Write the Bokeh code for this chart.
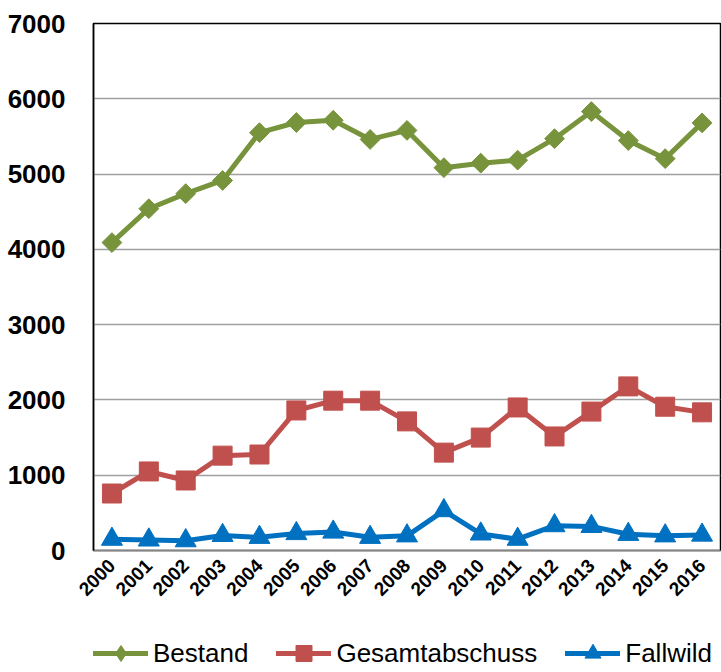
import math
from bokeh.plotting import figure
from bokeh.layouts import column
from bokeh.models import FactorRange, Range1d, Legend, LegendItem, FixedTicker
from bokeh.embed import file_html
from bokeh.resources import INLINE

# Jahre und Zeitreihen
years = [str(y) for y in range(2000, 2017)]
bestand = [4090, 4540, 4740, 4915, 5550, 5685, 5715, 5460, 5580, 5085, 5145, 5185,
           5470, 5830, 5445, 5205, 5680]
gesamtabschuss = [757, 1050, 930, 1260, 1275, 1860, 1990, 1990, 1715, 1300, 1500, 1900,
                  1515, 1845, 2180, 1910, 1835]
fallwild = [150, 140, 130, 200, 175, 225, 245, 175, 195, 530, 220, 150,
            330, 320, 215, 195, 205]
y_ticks = [0, 1000, 2000, 3000, 4000, 5000, 6000, 7000]

GREEN = "#77933C"
RED = "#C0504D"
BLUE = "#0070C0"
FONT = "Liberation Sans"

# name, values, colour, chart marker, size, angle, legend marker
series = [
    ("Bestand", bestand, GREEN, "square", 14, math.pi / 4, "diamond"),
    ("Gesamtabschuss", gesamtabschuss, RED, "square", 19, 0.0, "square"),
    ("Fallwild", fallwild, BLUE, "triangle", 21, 0.0, "triangle"),
]

# Hauptdiagramm
p = figure(
    frame_width=627, frame_height=527,
    x_range=FactorRange(*years, range_padding=0),
    y_range=Range1d(0, 7000),
    output_backend="svg", toolbar_location=None,
    min_border_left=93, min_border_top=23, min_border_right=1, min_border_bottom=0,
)
p.background_fill_color = "white"
p.border_fill_color = "white"
p.outline_line_color = "black"
p.outline_line_width = 1.5

p.xgrid.grid_line_color = None
p.ygrid.grid_line_color = "#a0a0a0"
p.ygrid.grid_line_width = 1.5

p.yaxis.ticker = FixedTicker(ticks=y_ticks)
p.yaxis.axis_line_color = "black"
p.yaxis.axis_line_width = 1.5
p.yaxis.major_tick_line_color = None
p.yaxis.minor_tick_line_color = None
p.yaxis.major_label_text_font = FONT
p.yaxis.major_label_text_font_style = "bold"
p.yaxis.major_label_text_font_size = "26px"
p.yaxis.major_label_text_color = "black"
p.yaxis.major_label_standoff = 22

p.xaxis.axis_line_color = "#868686"
p.xaxis.axis_line_width = 1.5
p.xaxis.major_tick_line_color = None
p.xaxis.minor_tick_line_color = None
p.xaxis.major_label_orientation = math.pi / 4
p.xaxis.major_label_text_font = FONT
p.xaxis.major_label_text_font_style = "bold"
p.xaxis.major_label_text_font_size = "19px"
p.xaxis.major_label_text_color = "black"
p.xaxis.major_label_standoff = 6

for name, vals, color, marker, size, angle, _ in series:
    p.line(years, vals, line_color=color, line_width=5, line_join="round")
    p.scatter(years, vals, marker=marker, size=size, angle=angle,
              fill_color=color, line_color=color)

# Legendenleiste: gleiche Reihen, Wertebereich ausserhalb der Daten,
# sodass nur die Legende sichtbar ist
leg = figure(
    width=721, height=69,
    x_range=FactorRange(*years, range_padding=0),
    y_range=Range1d(-2000, -1000),
    output_backend="svg", toolbar_location=None,
    x_axis_location=None, y_axis_location=None,
    min_border=0,
)
leg.outline_line_color = None
leg.grid.grid_line_color = None
leg.background_fill_color = "white"
leg.border_fill_color = "white"

items = []
for name, vals, color, _, size, _, leg_marker in series:
    ln = leg.line(years, vals, line_color=color, line_width=5, line_cap="round")
    sc = leg.scatter(years, vals, marker=leg_marker, size=size,
                     fill_color=color, line_color=color)
    items.append(LegendItem(label=name, renderers=[ln, sc]))

legend = Legend(
    items=items,
    orientation="horizontal",
    location=(0, 0),
    border_line_color=None,
    background_fill_alpha=0,
    label_text_font=FONT,
    label_text_font_size="26px",
    label_text_color="black",
    glyph_width=55,
    glyph_height=40,
    label_standoff=5,
    spacing=28,
    padding=0,
    margin=0,
)
leg.add_layout(legend)

layout = column(p, leg, spacing=0)
open("out.html", "w").write(file_html(layout, INLINE))
